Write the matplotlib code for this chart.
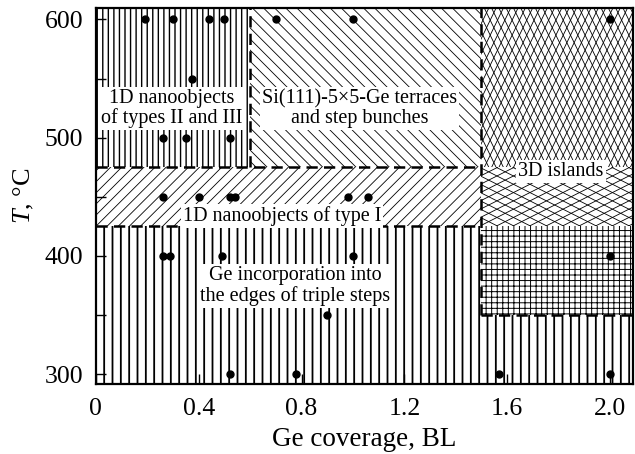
import matplotlib
matplotlib.use('Agg')
import matplotlib.pyplot as plt
from matplotlib.patches import Rectangle
from matplotlib.collections import LineCollection
import numpy as np

# diagram regions (Ge coverage in BL, T in C)
x_min, x_max = 0.0, 2.09
t_min, t_max = 291.5, 609.5
x_split1 = 0.6
x_split2 = 1.5
t_b1 = 475
t_b2 = 425
t_b3 = 350

# experimental points
pts_x = [0.19, 0.30, 0.44, 0.50, 0.70, 1.00, 2.00,
         0.375,
         0.26, 0.35, 0.52,
         0.26, 0.40, 0.52, 0.54, 0.98, 1.06,
         0.26, 0.29, 0.49, 1.00, 2.00,
         0.90,
         0.52, 0.78, 1.57, 2.00]
pts_t = [600, 600, 600, 600, 600, 600, 600,
         550,
         500, 500, 500,
         450, 450, 450, 450, 450, 450,
         400, 400, 400, 400, 400,
         350,
         300, 300, 300, 300]

labels = ['1D nanoobjects\nof types II and III',
          'Si(111)-5\u00d75-Ge terraces\nand step bunches',
          '3D islands',
          '1D nanoobjects of type I',
          'Ge incorporation into\nthe edges of triple steps']
label_x = [0.296, 1.025, 1.81, 0.725, 0.775]
label_t = [524.5, 524.5, 471, 434, 374.5]

plt.rcParams['font.family'] = ['Liberation Serif', 'DejaVu Serif']
plt.rcParams['mathtext.fontset'] = 'custom'
plt.rcParams['mathtext.it'] = 'Liberation Serif:italic'
plt.rcParams['mathtext.rm'] = 'Liberation Serif'
plt.rcParams['hatch.color'] = 'black'

fig = plt.figure(figsize=(6.35, 4.54), dpi=100)
ax = fig.add_axes([0.151, 0.154, 0.846, 0.828])
ax.set_xlim(x_min, x_max)
ax.set_ylim(t_min, t_max)


def hatch_box(x0, x1, y0, y1, hatch, lw):
    plt.rcParams['hatch.linewidth'] = lw
    r = Rectangle((x0, y0), x1 - x0, y1 - y0, facecolor='white',
                  edgecolor='black', linewidth=0, hatch=hatch, zorder=1)
    ax.add_patch(r)
    return r


# pixel scale, needed for the diamond hatching
pos = ax.get_position()
kx = pos.width * fig.get_figwidth() * fig.dpi / (x_max - x_min)
ky = pos.height * fig.get_figheight() * fig.dpi / (t_max - t_min)


def diamond_box(x0, x1, y0, y1, w_px, h_px, lw):
    r = Rectangle((x0, y0), x1 - x0, y1 - y0, facecolor='white',
                  edgecolor='none', linewidth=0, zorder=1)
    ax.add_patch(r)
    w = w_px / kx
    h = h_px / ky
    s = h / w
    span = (y1 - y0) / s
    segs = []
    for c in np.arange(x0 - span - w, x1 + span + w, w):
        segs.append([(c, y0), (c + span, y1)])
        segs.append([(c, y1), (c + span, y0)])
    lc = LineCollection(segs, colors='black', linewidths=lw, zorder=1.5)
    ax.add_collection(lc)
    lc.set_clip_path(r)


# 1D nanoobjects II and III
hatch_box(x_min, x_split1, t_b1, t_max, '|||', 1.0)
# terraces
hatch_box(x_split1, x_split2, t_b1, t_max, '\\\\\\', 0.6)
# 1D nanoobjects I
hatch_box(x_min, x_split2, t_b2, t_b1, '///', 0.6)
# Ge incorporation
hatch_box(x_min, x_split2, t_min, t_b2, '||', 1.3)
hatch_box(x_split2, x_max, t_min, t_b3, '||', 1.3)
# 3D islands
diamond_box(x_split2, x_max, t_b1, t_max, 7.3, 15, 0.6)
diamond_box(x_split2, x_max, t_b2, t_b1, 16.5, 8.3, 0.6)
hatch_box(x_split2, x_max, t_b3, t_b2, '+++', 0.7)

# boundaries
dash = dict(color='black', lw=1.8, ls=(0, (4.5, 2.5)), zorder=3)
ax.plot([x_min, x_split2], [t_b1, t_b1], **dash)
ax.plot([x_min, x_split2], [t_b2, t_b2], **dash)
ax.plot([x_split2, x_max], [t_b3, t_b3], **dash)
ax.plot([x_split1, x_split1], [t_b1, t_max], **dash)
ax.plot([x_split2, x_split2], [t_b3, t_max], **dash)

ax.plot(pts_x, pts_t, 'o', color='black', markersize=5, zorder=5)

for txt, lx, lt in zip(labels, label_x, label_t):
    ax.text(lx, lt, txt, ha='center', va='center', fontsize=14.5,
            linespacing=1.05, zorder=4,
            bbox=dict(facecolor='white', edgecolor='none', pad=1.5))

ax.set_xticks([0, 0.4, 0.8, 1.2, 1.6, 2.0])
ax.set_xticklabels(['0', '0.4', '0.8', '1.2', '1.6', '2.0'])
ax.set_yticks([300, 400, 500, 600])
ax.set_yticks([350, 450, 550], minor=True)
ax.tick_params(direction='in', labelsize=18.5, length=7, width=1.0)
ax.tick_params(axis='x', pad=10)
ax.tick_params(axis='y', pad=9)
ax.tick_params(which='minor', direction='in', length=7, width=1.0)
for sp in ax.spines.values():
    sp.set_linewidth(1.6)
    sp.set_zorder(6)

ax.set_xlabel('Ge coverage, BL', fontsize=19.5, labelpad=5)
ax.set_ylabel('$T$, \u00b0C', fontsize=19, labelpad=6)

fig.savefig('out.png', dpi=100)
